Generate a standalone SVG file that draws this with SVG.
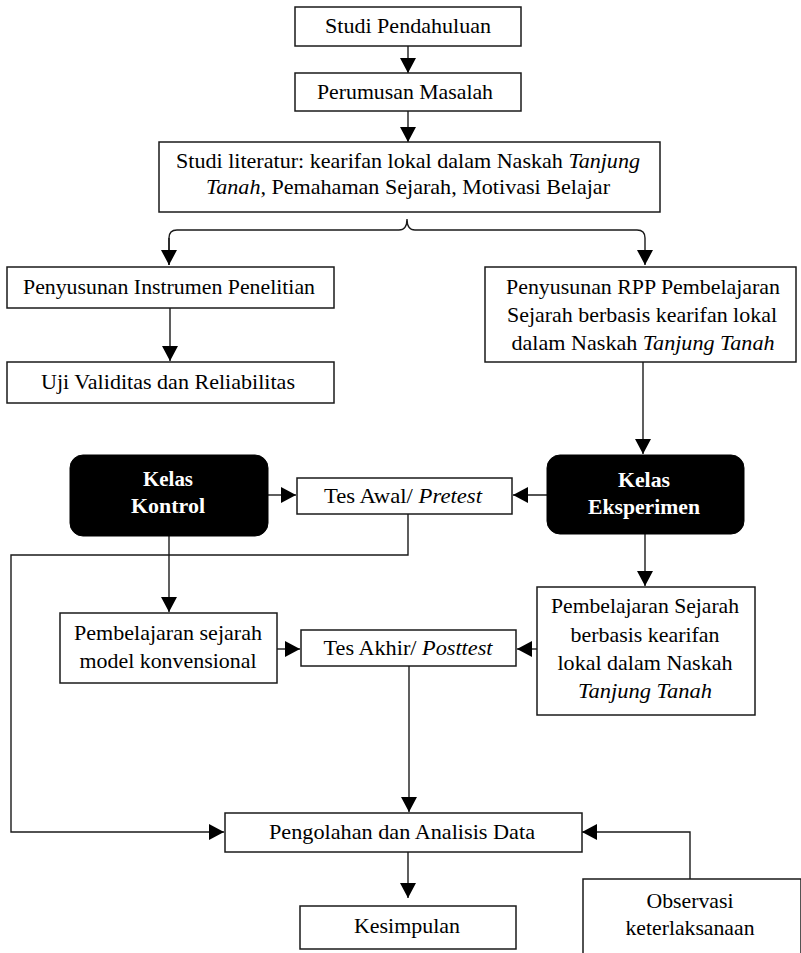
<svg xmlns="http://www.w3.org/2000/svg" width="801" height="953" viewBox="0 0 801 953">
<style>
.box{fill:#fff;stroke:#1a1a1a;stroke-width:1.5}
.dark{fill:#000;stroke:#000;stroke-width:1}
.t{font-family:"Liberation Serif","Times New Roman",serif;font-size:21px;fill:#000;text-anchor:middle}
.w{font-family:"Liberation Serif","Times New Roman",serif;font-size:21px;fill:#fff;font-weight:bold;text-anchor:middle}
.i{font-style:italic}
.c{fill:none;stroke:#1a1a1a;stroke-width:1.4}
</style>
<defs>
<marker id="ah" markerUnits="userSpaceOnUse" markerWidth="16" markerHeight="16" refX="15" refY="8" orient="auto">
<path d="M0,0 L15,8 L0,16 z" fill="#000"/>
</marker>
</defs>
<rect width="801" height="953" fill="#fff"/>
<g id="connectors">
<path class="c" d="M408,46 V73" marker-end="url(#ah)"/>
<path class="c" d="M408,111 V142" marker-end="url(#ah)"/>
<path class="c" d="M169,265 V238 Q169,230 177,230 H399 Q407,230 407,219 Q407,230 415,230 H637 Q645,230 645,238 V265" marker-end="url(#ah)"/>
<path class="c" d="M169,238 V265" marker-end="url(#ah)"/>
<path class="c" d="M170,308 V361" marker-end="url(#ah)"/>
<path class="c" d="M643,362 V454" marker-end="url(#ah)"/>
<path class="c" d="M268,495 H296" marker-end="url(#ah)"/>
<path class="c" d="M547,495 H513" marker-end="url(#ah)"/>
<path class="c" d="M408,514 V555 H11 V832 H224" marker-end="url(#ah)"/>
<path class="c" d="M169,536 V612" marker-end="url(#ah)"/>
<path class="c" d="M645,534 V586" marker-end="url(#ah)"/>
<path class="c" d="M277,649 H300" marker-end="url(#ah)"/>
<path class="c" d="M540,649 H517" marker-end="url(#ah)"/>
<path class="c" d="M409,666 V812" marker-end="url(#ah)"/>
<path class="c" d="M408,852 V898" marker-end="url(#ah)"/>
<path class="c" d="M690,879 V832 H582" marker-end="url(#ah)"/>
</g>
<g id="studi-pendahuluan">
<rect class="box" x="295" y="7" width="226" height="39"/>
<text class="t" x="408" y="33" textLength="166" lengthAdjust="spacingAndGlyphs">Studi Pendahuluan</text>
</g>
<g id="perumusan-masalah">
<rect class="box" x="295" y="73" width="226" height="38"/>
<text class="t" x="405" y="99" textLength="176" lengthAdjust="spacingAndGlyphs">Perumusan Masalah</text>
</g>
<g id="studi-literatur">
<rect class="box" x="159" y="142" width="501" height="70"/>
<text class="t" x="408" y="168" textLength="464" lengthAdjust="spacingAndGlyphs">Studi literatur: kearifan lokal dalam Naskah <tspan class="i">Tanjung</tspan></text>
<text class="t" x="408" y="194" textLength="404" lengthAdjust="spacingAndGlyphs"><tspan class="i">Tanah,</tspan> Pemahaman Sejarah, Motivasi Belajar</text>
</g>
<g id="penyusunan-instrumen">
<rect class="box" x="7" y="267" width="327" height="41"/>
<text class="t" x="169" y="294" textLength="292" lengthAdjust="spacingAndGlyphs">Penyusunan Instrumen Penelitian</text>
</g>
<g id="uji-validitas">
<rect class="box" x="7" y="362" width="327" height="41"/>
<text class="t" x="168" y="389" textLength="254" lengthAdjust="spacingAndGlyphs">Uji Validitas dan Reliabilitas</text>
</g>
<g id="penyusunan-rpp">
<rect class="box" x="485" y="267" width="311" height="95"/>
<text class="t" x="643" y="294" textLength="274" lengthAdjust="spacingAndGlyphs">Penyusunan RPP Pembelajaran</text>
<text class="t" x="642" y="322" textLength="270" lengthAdjust="spacingAndGlyphs">Sejarah berbasis kearifan lokal</text>
<text class="t" x="643" y="350" textLength="263" lengthAdjust="spacingAndGlyphs">dalam Naskah <tspan class="i">Tanjung Tanah</tspan></text>
</g>
<g id="kelas-kontrol">
<rect class="dark" x="70" y="455" width="198" height="81" rx="13"/>
<text class="w" x="168" y="486" textLength="50" lengthAdjust="spacingAndGlyphs">Kelas</text>
<text class="w" x="168" y="513" textLength="74" lengthAdjust="spacingAndGlyphs">Kontrol</text>
</g>
<g id="tes-awal">
<rect class="box" x="297" y="478" width="215" height="36"/>
<text class="t" x="403" y="503" textLength="158" lengthAdjust="spacingAndGlyphs">Tes Awal/ <tspan class="i">Pretest</tspan></text>
</g>
<g id="kelas-eksperimen">
<rect class="dark" x="547" y="455" width="197" height="79" rx="13"/>
<text class="w" x="644" y="487" textLength="52" lengthAdjust="spacingAndGlyphs">Kelas</text>
<text class="w" x="644" y="514" textLength="112" lengthAdjust="spacingAndGlyphs">Eksperimen</text>
</g>
<g id="pembelajaran-konvensional">
<rect class="box" x="60" y="613" width="217" height="70"/>
<text class="t" x="168" y="640" textLength="188" lengthAdjust="spacingAndGlyphs">Pembelajaran sejarah</text>
<text class="t" x="168" y="668" textLength="177" lengthAdjust="spacingAndGlyphs">model konvensional</text>
</g>
<g id="tes-akhir">
<rect class="box" x="301" y="630" width="215" height="36"/>
<text class="t" x="408" y="655" textLength="169" lengthAdjust="spacingAndGlyphs">Tes Akhir/ <tspan class="i">Posttest</tspan></text>
</g>
<g id="pembelajaran-kearifan">
<rect class="box" x="537" y="587" width="218" height="128"/>
<text class="t" x="645" y="613" textLength="188" lengthAdjust="spacingAndGlyphs">Pembelajaran Sejarah</text>
<text class="t" x="645" y="642" textLength="149" lengthAdjust="spacingAndGlyphs">berbasis kearifan</text>
<text class="t" x="645" y="670" textLength="175" lengthAdjust="spacingAndGlyphs">lokal dalam Naskah</text>
<text class="t i" x="645" y="698" textLength="134" lengthAdjust="spacingAndGlyphs">Tanjung Tanah</text>
</g>
<g id="pengolahan">
<rect class="box" x="225" y="813" width="357" height="39"/>
<text class="t" x="402" y="839" textLength="266" lengthAdjust="spacingAndGlyphs">Pengolahan dan Analisis Data</text>
</g>
<g id="kesimpulan">
<rect class="box" x="300" y="906" width="216" height="43"/>
<text class="t" x="407" y="933" textLength="106" lengthAdjust="spacingAndGlyphs">Kesimpulan</text>
</g>
<g id="observasi">
<rect class="box" x="583" y="879" width="218" height="80"/>
<text class="t" x="690" y="908" textLength="87" lengthAdjust="spacingAndGlyphs">Observasi</text>
<text class="t" x="690" y="935" textLength="129" lengthAdjust="spacingAndGlyphs">keterlaksanaan</text>
</g>
</svg>
